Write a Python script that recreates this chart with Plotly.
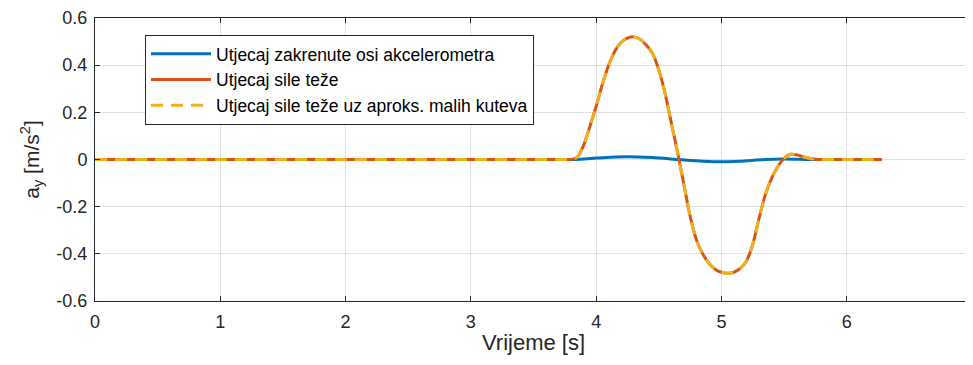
import plotly.graph_objects as go

# Time axes (s) and accelerations (m/s^2)
t_blue = [0, 1, 2, 3, 3.5, 3.75, 3.84, 4.0, 4.12, 4.25, 4.45, 4.66, 4.85, 5.0, 5.15,
          5.35, 5.5, 5.7, 5.85, 6.0, 6.28]
ay_blue = [0, 0, 0, 0, 0, 0, 0, 0.006, 0.010, 0.012, 0.008, 0, -0.007, -0.010, -0.007,
           0, 0.002, 0, 0, 0, 0]

t_grav = [0, 1, 2, 3, 3.5, 3.7, 3.76, 3.80, 3.85, 3.90, 3.95, 4.00, 4.05, 4.10, 4.15,
          4.20, 4.25, 4.30, 4.35, 4.40, 4.45, 4.50, 4.55, 4.60, 4.65, 4.70, 4.75,
          4.80, 4.85, 4.90, 4.95, 5.00, 5.05, 5.10, 5.15, 5.20, 5.25, 5.30, 5.35,
          5.40, 5.45, 5.50, 5.55, 5.60, 5.65, 5.70, 5.75, 5.80, 5.9, 6.0, 6.28]
ay_grav = [0, 0, 0, 0, 0, 0, 0, 0, 0.01, 0.06, 0.14, 0.225, 0.32, 0.40, 0.46,
           0.497, 0.515, 0.52, 0.51, 0.485, 0.45, 0.38, 0.28, 0.155, 0.03, -0.105, -0.24,
           -0.34, -0.40, -0.44, -0.465, -0.478, -0.482, -0.478, -0.462, -0.43, -0.36, -0.25, -0.15,
           -0.08, -0.03, 0.005, 0.022, 0.02, 0.012, 0.005, 0.001, 0, 0, 0, 0]
ay_approx = list(ay_grav)

names = ["Utjecaj zakrenute osi akcelerometra", "Utjecaj sile teže",
         "Utjecaj sile teže uz aproks. malih kuteva"]
x_ticks = [0, 1, 2, 3, 4, 5, 6, 7]
y_ticks = [-0.6, -0.4, -0.2, 0, 0.2, 0.4, 0.6]
y_tick_text = ["-0.6", "-0.4", "-0.2", "0", "0.2", "0.4", "0.6"]

FONT = "Liberation Sans, Arial, Helvetica"
TXT = "#262626"

fig = go.Figure()
fig.add_trace(go.Scatter(x=t_blue, y=ay_blue, mode="lines", name=names[0],
                         line=dict(color="#0072BD", width=3, shape="spline", smoothing=0.7)))
fig.add_trace(go.Scatter(x=t_grav, y=ay_grav, mode="lines", name=names[1],
                         line=dict(color="#D95319", width=3, shape="spline", smoothing=0.8)))
fig.add_trace(go.Scatter(x=t_grav, y=ay_approx, mode="lines", name=names[2],
                         line=dict(color="#EDB120", width=3, dash="12px,8px",
                                   shape="spline", smoothing=0.8)))

axis_common = dict(showline=True, linecolor=TXT, linewidth=1, mirror="ticks",
                   ticks="inside", ticklen=5, tickcolor=TXT, automargin=False,
                   showgrid=True, gridcolor="#e0e0e0", gridwidth=1, zeroline=False,
                   tickfont=dict(family=FONT, size=18, color=TXT))

fig.update_xaxes(range=[0, 7], tickvals=x_ticks, ticklabelstandoff=4,
                 title=dict(text="Vrijeme [s]", standoff=4,
                            font=dict(family=FONT, size=22, color=TXT)),
                 **axis_common)
fig.update_yaxes(range=[-0.6, 0.6], tickvals=y_ticks, ticktext=y_tick_text,
                 ticklabelstandoff=3,
                 title=dict(text="a<sub>y</sub> [m/s<sup>2</sup>]", standoff=11,
                            font=dict(family=FONT, size=21, color=TXT)),
                 **axis_common)

# page body has an 8px margin, so the figure is sized to fit the 973x365 window
fig.update_layout(
    width=965, height=357,
    margin=dict(l=87, r=1, t=10, b=64),
    plot_bgcolor="white", paper_bgcolor="white",
    showlegend=True,
    legend=dict(x=0.057, y=0.94, xanchor="left", yanchor="top",
                bgcolor="white", bordercolor=TXT, borderwidth=1,
                font=dict(family=FONT, size=17.5, color="#000000"),
                itemwidth=60, tracegroupgap=0),
)

fig.write_html("out.html")
